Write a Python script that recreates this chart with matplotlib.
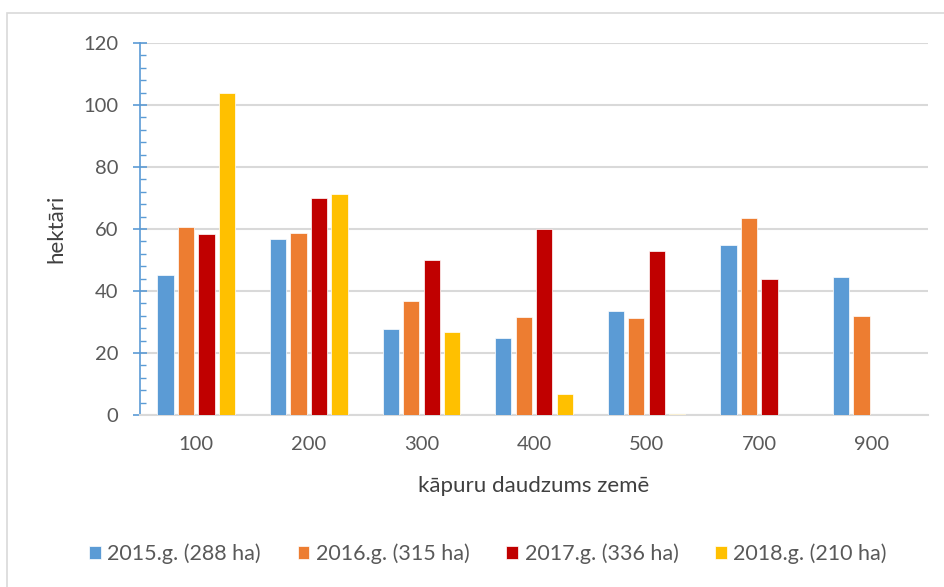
import matplotlib.pyplot as plt
from matplotlib.patches import Rectangle
from matplotlib.ticker import MultipleLocator
import numpy as np

plt.rcParams['font.family'] = ['Lato', 'DejaVu Sans']

categories = ["100", "200", "300", "400", "500", "700", "900"]
y2015 = [45.1, 56.7, 27.6, 25.0, 33.5, 55.0, 44.5]
y2016 = [60.6, 58.6, 36.9, 31.7, 31.3, 63.4, 31.9]
y2017 = [58.4, 70.1, 49.9, 60.1, 52.8, 44.0, 0]
y2018 = [103.9, 71.4, 26.7, 6.7, 0.4, 0, 0]
labels = ["2015.g. (288 ha)", "2016.g. (315 ha)", "2017.g. (336 ha)", "2018.g. (210 ha)"]
colors = ["#5B9BD5", "#ED7D31", "#C00000", "#FFC000"]

fig = plt.figure(figsize=(9.45, 5.87), dpi=100)
ax = fig.add_axes([140/945, 1 - 415/587, 788/945, 372/587])

# light chart border (top and left only visible)
fig.patches.append(Rectangle((7/945, -0.1), 1.2, 1.1 - 13/587, transform=fig.transFigure,
                             fill=False, edgecolor="#D9D9D9", linewidth=1.2))

x = np.arange(len(categories))
pitch = 0.182
series = [y2015, y2016, y2017, y2018]
for i, vals in enumerate(series):
    ax.bar(x + (i - 1.5) * pitch, vals, width=0.145, color=colors[i], label=labels[i],
           edgecolor="white", linewidth=0.5, zorder=3)

ax.set_xlim(-0.5, 6.5)
ax.set_ylim(0, 120)
ax.set_xticks(x)
ax.set_xticklabels(categories)
ax.yaxis.set_major_locator(MultipleLocator(20))
ax.yaxis.set_minor_locator(MultipleLocator(4))
ax.grid(axis="y", color="#D9D9D9", linewidth=1.5, zorder=0)

for s in ["top", "right"]:
    ax.spines[s].set_visible(False)
ax.spines["left"].set_color("#5B9BD5")
ax.spines["left"].set_linewidth(1.2)
ax.spines["bottom"].set_color("#D9D9D9")
ax.spines["bottom"].set_linewidth(1.5)

ax.tick_params(axis="y", which="major", direction="inout", length=9.5, width=1.2,
               color="#5B9BD5", labelsize=14.5, labelcolor="#595959", pad=11)
ax.tick_params(axis="y", which="minor", direction="in", length=4.3, width=1,
               color="#5B9BD5")
ax.tick_params(axis="x", length=0, labelsize=14.5, labelcolor="#595959", pad=15)

ax.set_ylabel("hektāri", fontsize=16, color="#404040", labelpad=12)
ax.set_xlabel("kāpuru daudzums zemē", fontsize=16, color="#404040", labelpad=17)

fig.legend(loc="center", bbox_to_anchor=(488/945, 1 - 554/587), ncol=4, frameon=False,
           fontsize=15.5, labelcolor="#595959", handlelength=0.55, handleheight=0.55,
           handletextpad=0.3, columnspacing=1.7)

fig.savefig("out.png", dpi=100)
